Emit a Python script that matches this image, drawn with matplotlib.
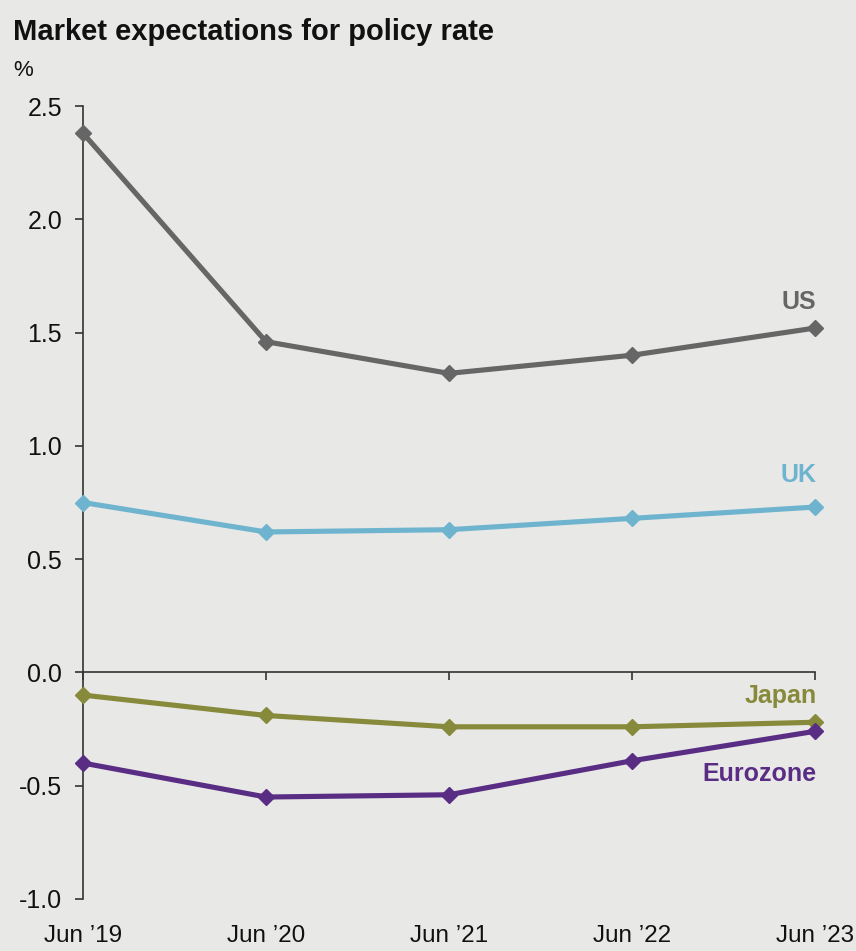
import matplotlib.pyplot as plt

plt.rcParams['font.family'] = ['Liberation Sans', 'DejaVu Sans']

# Market-implied policy rates, %
dates = ["Jun \u201919", "Jun \u201920", "Jun \u201921", "Jun \u201922", "Jun \u201923"]
us = [2.38, 1.46, 1.32, 1.40, 1.52]
uk = [0.75, 0.62, 0.63, 0.68, 0.73]
japan = [-0.10, -0.19, -0.24, -0.24, -0.22]
eurozone = [-0.40, -0.55, -0.54, -0.39, -0.26]

series = [
    ("US", us, "#666666", 19),
    ("UK", uk, "#6fb4cf", 23),
    ("Japan", japan, "#878a3a", 19),
    ("Eurozone", eurozone, "#5a2d84", -31),
]

bg = "#e8e8e6"
fig = plt.figure(figsize=(8.56, 9.51), dpi=100, facecolor=bg)
ax = fig.add_axes([0.097, 0.0547, 0.855, 0.8338], facecolor=bg)

x = list(range(len(dates)))
for name, vals, color, dy in series:
    ax.plot(x, vals, color=color, lw=3.7, marker="D", markersize=8,
            clip_on=False, zorder=3)
    ax.annotate(name, (x[-1], vals[-1]), xytext=(1, dy), textcoords="offset points",
                ha="right", va="center", color=color, fontsize=18, fontweight="bold")

ax.set_xlim(0, len(dates) - 1)
ax.set_ylim(-1.0, 2.5)
ax.set_yticks([-1.0, -0.5, 0.0, 0.5, 1.0, 1.5, 2.0, 2.5])
ax.set_yticklabels([f"{v:.1f}" for v in ax.get_yticks()])

axis_col = "#333333"
for side in ["top", "right"]:
    ax.spines[side].set_visible(False)
ax.spines["left"].set_color(axis_col)
ax.spines["left"].set_linewidth(1.2)
ax.spines["bottom"].set_position(("data", 0))
ax.spines["bottom"].set_color(axis_col)
ax.spines["bottom"].set_linewidth(1.2)

ax.set_xticks(x)
ax.set_xticklabels([])
ax.tick_params(axis="x", direction="out", length=6, width=1.2, color=axis_col)
ax.tick_params(axis="y", direction="out", length=6, width=1.2, color=axis_col,
               labelsize=18, pad=9, labelcolor="#111111")

# date labels sit under the plot, below the -1.0 line
sec = ax.secondary_xaxis(0)
sec.set_xticks(x)
sec.set_xticklabels(dates)
sec.spines["bottom"].set_visible(False)
sec.tick_params(axis="x", length=0, pad=19, labelsize=17.5, labelcolor="#111111")

fig.text(0.015, 0.958, "Market expectations for policy rate", fontsize=21,
         fontweight="bold", color="#111111", va="baseline")
fig.text(0.015, 0.926, "%", fontsize=16, color="#111111", va="center")

fig.savefig("out.png", dpi=100, facecolor=bg)
